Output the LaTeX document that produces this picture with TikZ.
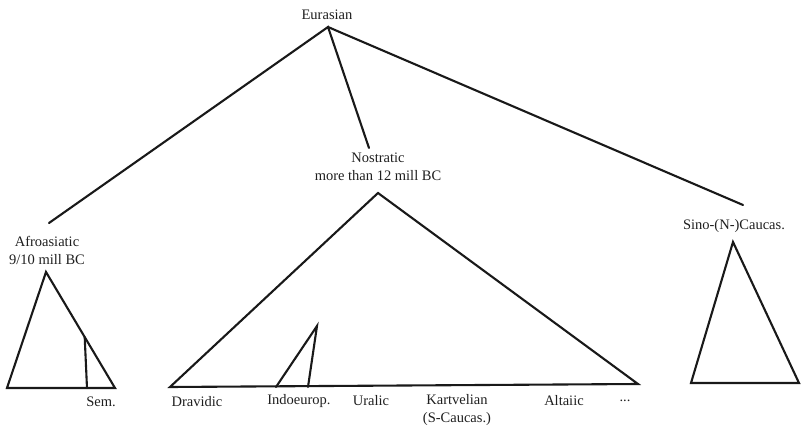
\documentclass[tikz,border=0pt]{standalone}
\usepackage{fontspec}
\setmainfont{Liberation Serif}
\begin{document}
\begin{tikzpicture}[x=1pt,y=-1pt,
  lab/.style={inner sep=0pt,text=black!88,font=\fontsize{14.5}{18}\selectfont,align=center},
  edge/.style={draw=black!90,line width=2.1pt,line cap=round},
  tri/.style={edge,line join=miter}]
\useasboundingbox (0,0) rectangle (801,428);

% top of the tree
\node[lab] (eurasian) at (327,15) {Eurasian};
\coordinate (eu) at (328,27);

% branch labels
\node[lab] (afro) at (47,250) {Afroasiatic\\9/10 mill BC};
\node[lab] (nostr) at (378,167) {Nostratic\\more than 12 mill BC};
\node[lab] (sino) at (734,226) {Sino-(N-)Caucas.};

% ends of the branches
\coordinate (afroTop) at (49,223);
\coordinate (nostrTop) at (369,148);
\coordinate (sinoTop) at (743,205);

\draw[edge] (afroTop) -- (eu) -- (nostrTop);
\draw[edge] (eu) -- (sinoTop);

% Afroasiatic family
\coordinate (aA) at (46,272);
\coordinate (aL) at (7,388);
\coordinate (aR) at (115,388);
\draw[tri] (aA) -- (aL) -- (aR) -- cycle;
\coordinate (semTop) at (84.7,337);
\coordinate (semBot) at (87,388);
\draw[edge] (semTop) -- (semBot);
\node[lab] (sem) at (101,402) {Sem.};

% Nostratic family
\coordinate (nA) at (378,193);
\coordinate (nL) at (170,387);
\coordinate (nR) at (638,384);
\draw[tri] (nA) -- (nL) -- (nR) -- cycle;
\coordinate (iA) at (317,326);
\coordinate (iL) at (276,387);
\coordinate (iR) at (308,387);
\draw[edge] (iL) -- (iA) -- (iR);

\node[lab] (dravidic) at (197,402) {Dravidic};
\node[lab] (indoeur) at (299,401) {Indoeurop.};
\node[lab] (uralic) at (371,401) {Uralic};
\node[lab] (kartv) at (457,410) {Kartvelian\\(S-Caucas.)};
\node[lab] (altaic) at (564,401) {Altaiic};
\node[lab] (dots) at (625,401) {...};

% Sino-Caucasian family
\coordinate (sA) at (733,242);
\coordinate (sL) at (691,383);
\coordinate (sR) at (799,383);
\draw[tri] (sA) -- (sL) -- (sR) -- cycle;
\end{tikzpicture}
\end{document}
